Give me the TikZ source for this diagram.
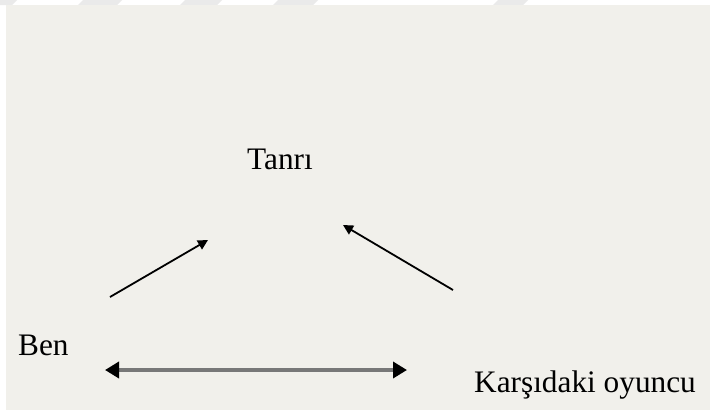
\documentclass[tikz,border=0pt]{standalone}
\usepackage{fontspec}
\setmainfont{Liberation Serif}
\usetikzlibrary{arrows.meta}
\definecolor{panel}{RGB}{241,240,235}
\definecolor{stripe}{RGB}{234,234,234}
\definecolor{shaft}{RGB}{120,120,120}
\tikzset{
  caption/.style={inner sep=0pt, anchor=base west, font=\fontsize{31.3}{37}\selectfont},
  link/.style={line width=1.8pt, -{Triangle[length=10pt,width=10pt]}},
  mutual/.style={line width=4pt, draw=shaft, {Triangle[length=14pt,width=16pt,color=black]}-{Triangle[length=14pt,width=16pt,color=black]}}
}
\begin{document}
\begin{tikzpicture}[x=1pt,y=-1pt]
  \useasboundingbox (0,0) rectangle (710,410);
  % white top strip with faint diagonal marks
  \fill[white] (0,0) rectangle (710,410);
  \foreach \a/\b in {-6/12, 78/117, 180/217, 273/313, 493/523}
    \fill[stripe] (\a,5) -- (\a+5,0) -- (\b+5,0) -- (\b,5) -- cycle;
  % panel
  \fill[panel] (6,5) rectangle (710,410);
  % labels
  \node[caption] (god) at (247,169) {Tanrı};
  \node[caption] (me) at (18,355) {Ben};
  \node[caption] (other) at (474,392) {Karşıdaki oyuncu};
  % arrow ends
  \coordinate (meStart) at (110,297);
  \coordinate (godLeft) at (208,240);
  \coordinate (otherStart) at (453,290);
  \coordinate (godRight) at (343,225);
  \coordinate (pairLeft) at (105,370);
  \coordinate (pairRight) at (407,370);
  % connectors
  \draw[link] (meStart) -- (godLeft);
  \draw[link] (otherStart) -- (godRight);
  \draw[mutual] (pairLeft) -- (pairRight);
\end{tikzpicture}
\end{document}
